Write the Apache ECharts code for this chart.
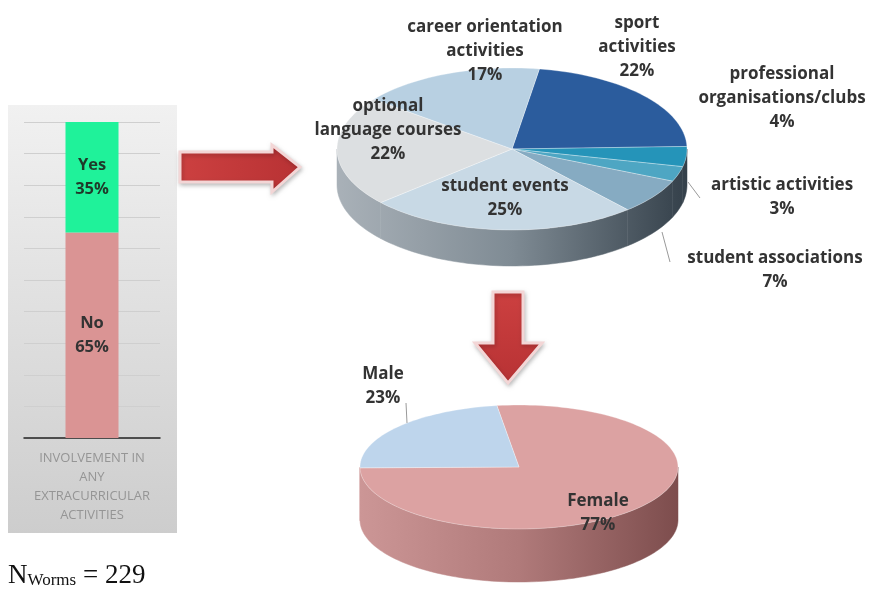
<!DOCTYPE html>
<html>
<head>
<meta charset="utf-8">
<script src="https://cdn.jsdelivr.net/npm/echarts@6/dist/echarts.min.js"></script>
<style>
  html, body { margin: 0; padding: 0; background: #fff; }
  #chart { width: 873px; height: 593px; }
</style>
</head>
<body>
<div id="chart"></div>
<script>
// left bar
const barCategories = ['INVOLVEMENT IN\nANY\nEXTRACURRICULAR\nACTIVITIES'];
const yesValues = [35];
const noValues = [65];

// activities pie (clockwise from the top)
const activityNames = [
  'sport\nactivities',
  'professional\norganisations/clubs',
  'artistic activities',
  'student associations',
  'student events',
  'optional\nlanguage courses',
  'career orientation\nactivities'
];
const activityValues = [22, 4, 3, 7, 25, 22, 17];

// gender pie
const genderNames = ['Female', 'Male'];
const genderValues = [77, 23];

const FONT = '"Open Sans", Lato, sans-serif';

function pie3d(o) {
  const total = o.values.reduce((a, b) => a + b, 0);
  const starts = [];
  let acc = 0;
  o.values.forEach(v => { starts.push(acc); acc += v; });
  const pt = (deg, dy) => {
    const r = deg * Math.PI / 180;
    return [o.cx + o.rx * Math.sin(r), o.cy - o.ry * Math.cos(r) + (dy || 0)];
  };
  const arc = (a, b, dy) => {
    const pts = [];
    const n = Math.max(2, Math.ceil((b - a) / 2));
    for (let k = 0; k <= n; k++) pts.push(pt(a + (b - a) * k / n, dy));
    return pts;
  };
  const sideFill = new echarts.graphic.LinearGradient(o.cx - o.rx, 0, o.cx + o.rx, 0, [
    { offset: 0, color: o.side[0] },
    { offset: 0.5, color: o.side[1] },
    { offset: 1, color: o.side[2] }
  ], true);
  return {
    type: 'custom',
    coordinateSystem: 'none',
    silent: true,
    data: o.values.map((v, i) => ({ value: [v], name: o.names[i] })),
    renderItem(params, api) {
      const i = params.dataIndex;
      const a0 = o.start + 360 * starts[i] / total;
      const a1 = a0 + 360 * api.value(0) / total;
      const children = [];
      [[90, 270], [450, 630]].forEach(([f0, f1]) => {
        const s0 = Math.max(a0, f0), s1 = Math.min(a1, f1);
        if (s1 > s0) {
          const upper = arc(s0, s1, 0), lower = arc(s0, s1, o.depth).reverse();
          children.push({
            type: 'polygon', z2: 0,
            shape: { points: upper.concat(lower) },
            style: { fill: sideFill, stroke: sideFill, lineWidth: 0.5 }
          });
        }
      });
      children.push({
        type: 'polygon', z2: 1,
        shape: { points: [[o.cx, o.cy]].concat(arc(a0, a1, 0)) },
        style: { fill: o.colors[i], stroke: 'rgba(255,255,255,0.5)', lineWidth: 0.6 }
      });
      const lp = o.labelPos[i];
      children.push({
        type: 'text', z2: 20,
        style: {
          text: o.names[i] + '\n' + api.value(0) + '%',
          x: lp[0], y: lp[1],
          align: 'center', verticalAlign: 'middle',
          fontFamily: FONT, fontWeight: 'bold', fontSize: 17,
          lineHeight: 24, fill: '#333'
        }
      });
      return { type: 'group', children };
    }
  };
}

function arrowStyle(x0, y0, x1, y1) {
  return {
    fill: new echarts.graphic.LinearGradient(x0, y0, x1, y1, [
      { offset: 0, color: '#cc4040' },
      { offset: 1, color: '#b83234' }
    ], true),
    stroke: '#f3d6d6',
    lineWidth: 3,
    shadowBlur: 4,
    shadowColor: 'rgba(0,0,0,0.22)',
    shadowOffsetX: 1,
    shadowOffsetY: 2
  };
}

const chart = echarts.init(document.getElementById('chart'));
chart.setOption({
  animation: false,
  graphic: [
    {
      type: 'rect', z: -10,
      shape: { x: 8, y: 105, width: 169, height: 428 },
      style: {
        fill: new echarts.graphic.LinearGradient(0, 0, 0, 1, [
          { offset: 0, color: '#f1f1f1' },
          { offset: 1, color: '#cdcdcd' }
        ])
      }
    },
    {
      type: 'polygon', z: 5,
      shape: { points: [[180, 152], [272, 152], [272, 145], [300, 167], [272, 192], [272, 182], [180, 182]] },
      style: arrowStyle(180, 0, 300, 0)
    },
    {
      type: 'polygon', z: 5,
      shape: { points: [[493, 292], [523, 292], [523, 343], [542, 343], [508, 383], [475, 343], [493, 343]] },
      style: arrowStyle(0, 292, 0, 383)
    },
    { type: 'polyline', z: 5, shape: { points: [[688, 182], [700, 198]] }, style: { stroke: '#999', lineWidth: 1 } },
    { type: 'polyline', z: 5, shape: { points: [[662, 232], [670, 262]] }, style: { stroke: '#999', lineWidth: 1 } },
    { type: 'polyline', z: 5, shape: { points: [[406, 403], [407, 423]] }, style: { stroke: '#999', lineWidth: 1 } },
    {
      type: 'text', z: 5,
      style: {
        text: 'N{sub|Worms} = 229',
        x: 8, y: 576, verticalAlign: 'middle',
        fontFamily: '"Liberation Serif", "Times New Roman", serif',
        fontSize: 27, fill: '#111',
        rich: { sub: { fontSize: 17, padding: [10, 0, 0, 0], fontFamily: '"Liberation Serif", serif' } }
      }
    }
  ],
  grid: { left: 24, top: 122, width: 136, height: 316 },
  xAxis: {
    type: 'category',
    data: barCategories,
    axisLine: { lineStyle: { color: '#222', width: 1.5 } },
    axisTick: { show: false },
    axisLabel: { color: '#959595', fontSize: 13, lineHeight: 19, margin: 11, fontFamily: FONT }
  },
  yAxis: {
    type: 'value', min: 0, max: 100, interval: 10,
    axisLabel: { show: false },
    axisLine: { show: false },
    axisTick: { show: false },
    splitLine: { lineStyle: { color: '#cfcfcf' } }
  },
  series: [
    {
      name: 'No', type: 'bar', stack: 'all', barWidth: 53, data: noValues,
      itemStyle: { color: '#da9494' },
      label: { show: true, position: 'inside', formatter: '{a}\n{c}%', color: '#333', fontWeight: 'bold', fontSize: 16.5, lineHeight: 24, fontFamily: FONT }
    },
    {
      name: 'Yes', type: 'bar', stack: 'all', barWidth: 53, data: yesValues,
      itemStyle: { color: '#1ff29a' },
      label: { show: true, position: 'inside', formatter: '{a}\n{c}%', color: '#1f3a2a', fontWeight: 'bold', fontSize: 16.5, lineHeight: 24, fontFamily: FONT }
    },
    pie3d({
      cx: 512, cy: 149, rx: 175, ry: 81, depth: 36, start: 9,
      names: activityNames, values: activityValues,
      colors: ['#2b5c9d', '#2594b9', '#4ea6c3', '#86abc2', '#c8d9e5', '#dcdfe1', '#b8d0e2'],
      side: ['#a9b1b8', '#7f8b94', '#34404a'],
      labelPos: [[637, 47], [782, 98], [782, 197], [775, 270], [505, 198], [388, 130], [485, 51]]
    }),
    pie3d({
      cx: 519, cy: 467, rx: 159, ry: 62, depth: 53, start: 352,
      names: genderNames, values: genderValues,
      colors: ['#dca2a2', '#bed5ec'],
      side: ['#cc9696', '#b07a7a', '#7d4d4d'],
      labelPos: [[598, 513], [383, 386]]
    })
  ]
});
</script>
</body>
</html>
